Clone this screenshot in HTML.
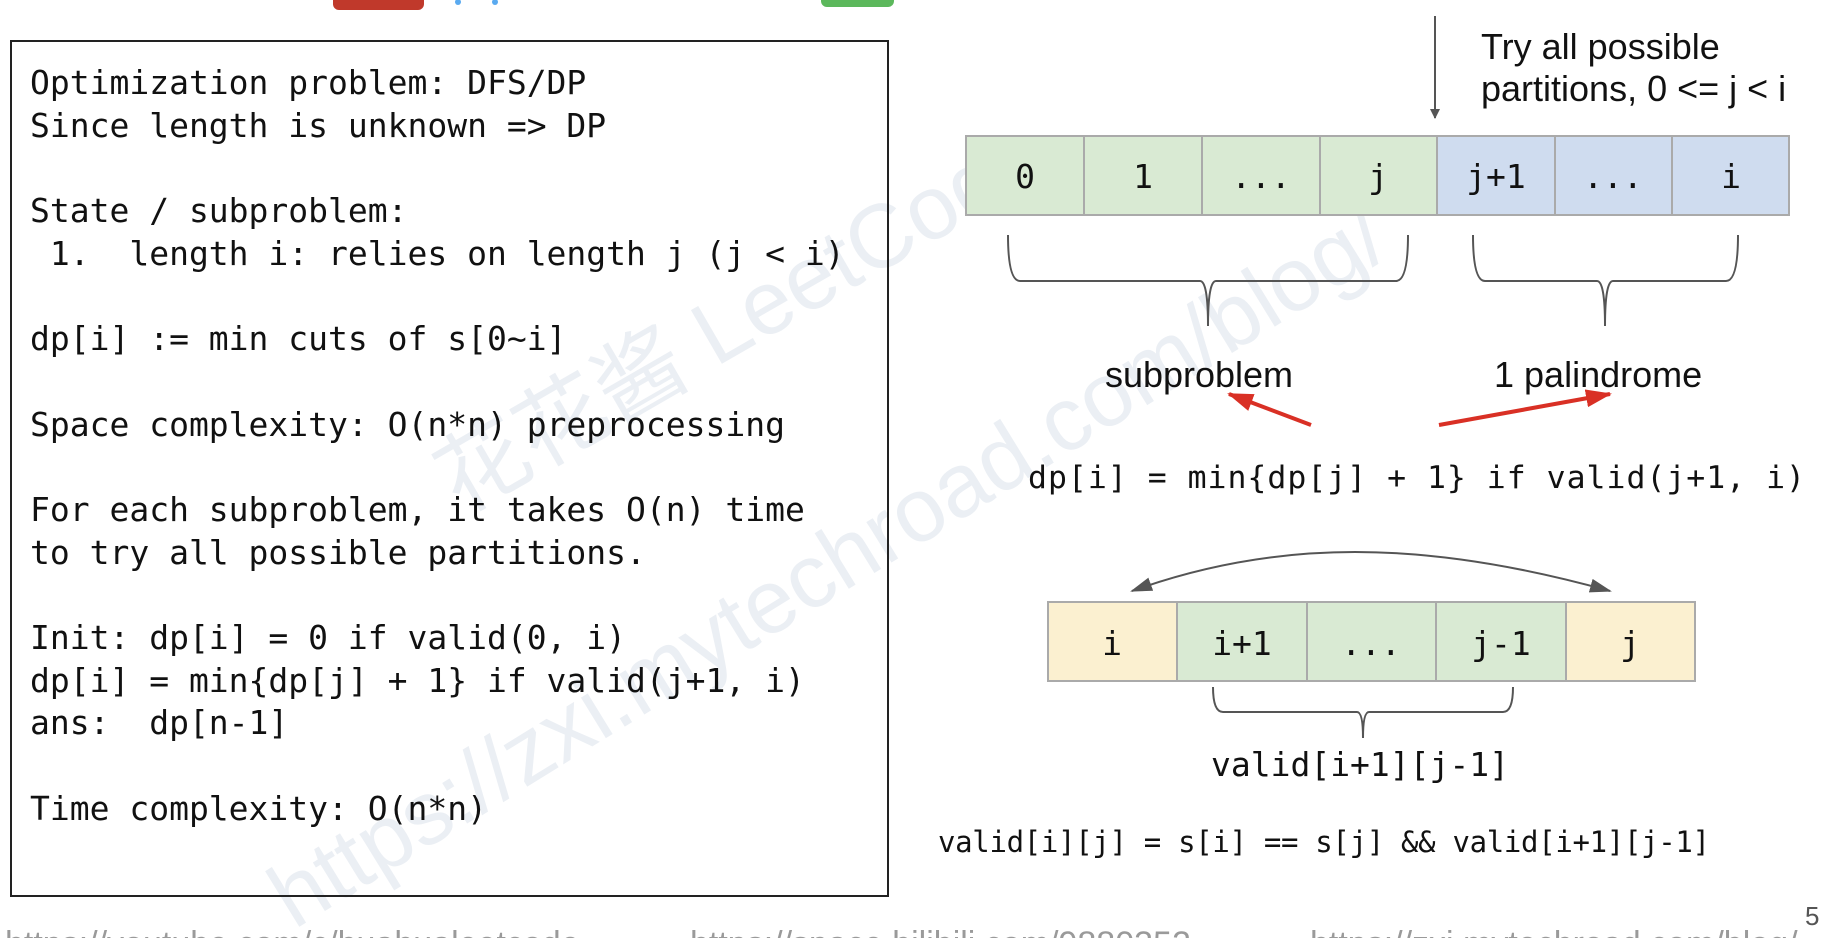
<!DOCTYPE html>
<html><head><meta charset="utf-8"><style>
html,body{margin:0;padding:0;background:#fff;width:1846px;height:938px;overflow:hidden;position:relative}
svg{position:absolute;left:0;top:0}
</style></head><body>
<svg width="1846" height="938" viewBox="0 0 1846 938" xmlns="http://www.w3.org/2000/svg">
<defs>
<marker id="ag" markerWidth="10" markerHeight="10" refX="9" refY="5" orient="auto" markerUnits="userSpaceOnUse"><path d="M0,0 L10,5 L0,10 z" fill="#555"/></marker>
<marker id="ag2" markerWidth="22" markerHeight="14" refX="20" refY="7" orient="auto" markerUnits="userSpaceOnUse"><path d="M0,0 L22,7 L0,14 z" fill="#555"/></marker>
<marker id="ar" markerWidth="26" markerHeight="18" refX="24" refY="9" orient="auto" markerUnits="userSpaceOnUse"><path d="M0,0 L26,9 L0,18 z" fill="#d93025"/></marker>
</defs>
<rect x="333" y="-10" width="91" height="20" rx="6" fill="#c0392b"/>
<rect x="821" y="-10" width="73" height="17" rx="6" fill="#5cb85c"/>
<circle cx="458" cy="2" r="3" fill="#5aaaf0"/><circle cx="495" cy="2" r="3" fill="#5aaaf0"/>
<g fill="#ebeff4" font-family="Liberation Sans, Noto Sans CJK SC, sans-serif" font-size="90">
<text transform="translate(460,515) rotate(-30)">花花酱 LeetCode</text>
<text transform="translate(294,930) rotate(-31.6)">https://zxi.mytechroad.com/blog/</text>
</g>
<rect x="11" y="41" width="877" height="855" fill="none" stroke="#222" stroke-width="2"/>
<g font-family="DejaVu Sans Mono, Liberation Mono, monospace" font-size="33" fill="#111">
<text x="30" y="94" xml:space="preserve">Optimization problem: DFS/DP</text>
<text x="30" y="137" xml:space="preserve">Since length is unknown =&gt; DP</text>
<text x="30" y="222" xml:space="preserve">State / subproblem:</text>
<text x="30" y="265" xml:space="preserve"> 1.  length i: relies on length j (j &lt; i)</text>
<text x="30" y="350" xml:space="preserve">dp[i] := min cuts of s[0~i]</text>
<text x="30" y="436" xml:space="preserve">Space complexity: O(n*n) preprocessing</text>
<text x="30" y="521" xml:space="preserve">For each subproblem, it takes O(n) time</text>
<text x="30" y="564" xml:space="preserve">to try all possible partitions.</text>
<text x="30" y="649" xml:space="preserve">Init: dp[i] = 0 if valid(0, i)</text>
<text x="30" y="692" xml:space="preserve">dp[i] = min{dp[j] + 1} if valid(j+1, i)</text>
<text x="30" y="734" xml:space="preserve">ans:  dp[n-1]</text>
<text x="30" y="820" xml:space="preserve">Time complexity: O(n*n)</text>
</g>
<line x1="1435" y1="16" x2="1435" y2="118" stroke="#555" stroke-width="2" marker-end="url(#ag)"/>
<g font-family="Liberation Sans, sans-serif" font-size="36" fill="#111">
<text x="1481" y="59">Try all possible</text>
<text x="1481" y="101">partitions, 0 &lt;= j &lt; i</text>
</g>
<g stroke="#aaa" stroke-width="2">
<rect x="966" y="136" width="118" height="79" fill="#d9ead3"/>
<rect x="1084" y="136" width="118" height="79" fill="#d9ead3"/>
<rect x="1202" y="136" width="118" height="79" fill="#d9ead3"/>
<rect x="1320" y="136" width="117" height="79" fill="#d9ead3"/>
<rect x="1437" y="136" width="118" height="79" fill="#cfdcef"/>
<rect x="1555" y="136" width="117" height="79" fill="#cfdcef"/>
<rect x="1672" y="136" width="117" height="79" fill="#cfdcef"/>
</g>
<g font-family="DejaVu Sans Mono, Liberation Mono, monospace" font-size="33" fill="#111" text-anchor="middle">
<text x="1025" y="188">0</text><text x="1143" y="188">1</text><text x="1261" y="188">...</text><text x="1378" y="188">j</text>
<text x="1496" y="188">j+1</text><text x="1613" y="188">...</text><text x="1731" y="188">i</text>
</g>
<g fill="none" stroke="#555" stroke-width="2">
<path d="M1008,235 Q1008,281 1020,281 L1200,281 Q1208,281 1208,326 Q1208,281 1216,281 L1396,281 Q1408,281 1408,235"/>
<path d="M1473,235 Q1473,281 1485,281 L1597,281 Q1605,281 1605,326 Q1605,281 1613,281 L1726,281 Q1738,281 1738,235"/>
<path d="M1213,687 Q1213,712 1223,712 L1357,712 Q1363,712 1363,738 Q1363,712 1369,712 L1503,712 Q1513,712 1513,687"/>
</g>
<g font-family="Liberation Sans, sans-serif" font-size="36" fill="#111">
<text x="1199" y="387" text-anchor="middle">subproblem</text>
<text x="1494" y="387">1 palindrome</text>
</g>
<line x1="1311" y1="425" x2="1229" y2="394" stroke="#d93025" stroke-width="4" marker-end="url(#ar)"/>
<line x1="1439" y1="425" x2="1610" y2="394" stroke="#d93025" stroke-width="4" marker-end="url(#ar)"/>
<text x="1028" y="488" font-family="DejaVu Sans Mono, Liberation Mono, monospace" font-size="31.5" fill="#111" textLength="777" xml:space="preserve">dp[i] = min{dp[j] + 1} if valid(j+1, i)</text>
<path d="M1355,552 Q1240,552 1132,591" fill="none" stroke="#555" stroke-width="2" marker-end="url(#ag2)"/>
<path d="M1355,552 Q1470,552 1610,591" fill="none" stroke="#555" stroke-width="2" marker-end="url(#ag2)"/>
<g stroke="#aaa" stroke-width="2">
<rect x="1048" y="602" width="129" height="79" fill="#fbf0d0"/>
<rect x="1177" y="602" width="130" height="79" fill="#d9ead3"/>
<rect x="1307" y="602" width="129" height="79" fill="#d9ead3"/>
<rect x="1436" y="602" width="130" height="79" fill="#d9ead3"/>
<rect x="1566" y="602" width="129" height="79" fill="#fbf0d0"/>
</g>
<g font-family="DejaVu Sans Mono, Liberation Mono, monospace" font-size="33" fill="#111" text-anchor="middle">
<text x="1112" y="655">i</text><text x="1242" y="655">i+1</text><text x="1371" y="655">...</text><text x="1501" y="655">j-1</text><text x="1630" y="655">j</text>
</g>
<text x="1360" y="776" text-anchor="middle" font-family="DejaVu Sans Mono, Liberation Mono, monospace" font-size="33" fill="#111">valid[i+1][j-1]</text>
<text x="938" y="852" font-family="DejaVu Sans Mono, Liberation Mono, monospace" font-size="29" fill="#111" textLength="772" xml:space="preserve">valid[i][j] = s[i] == s[j] &amp;&amp; valid[i+1][j-1]</text>
<text x="1805" y="925" font-family="Liberation Sans, sans-serif" font-size="26" fill="#555">5</text>
<g font-family="Liberation Sans, sans-serif" font-size="34" fill="#9a9a9a">
<text x="5" y="955">https://youtube.com/c/huahualeetcode</text>
<text x="690" y="955">https://space.bilibili.com/9880352</text>
<text x="1310" y="955">https://zxi.mytechroad.com/blog/</text>
</g>
</svg>
</body></html>
